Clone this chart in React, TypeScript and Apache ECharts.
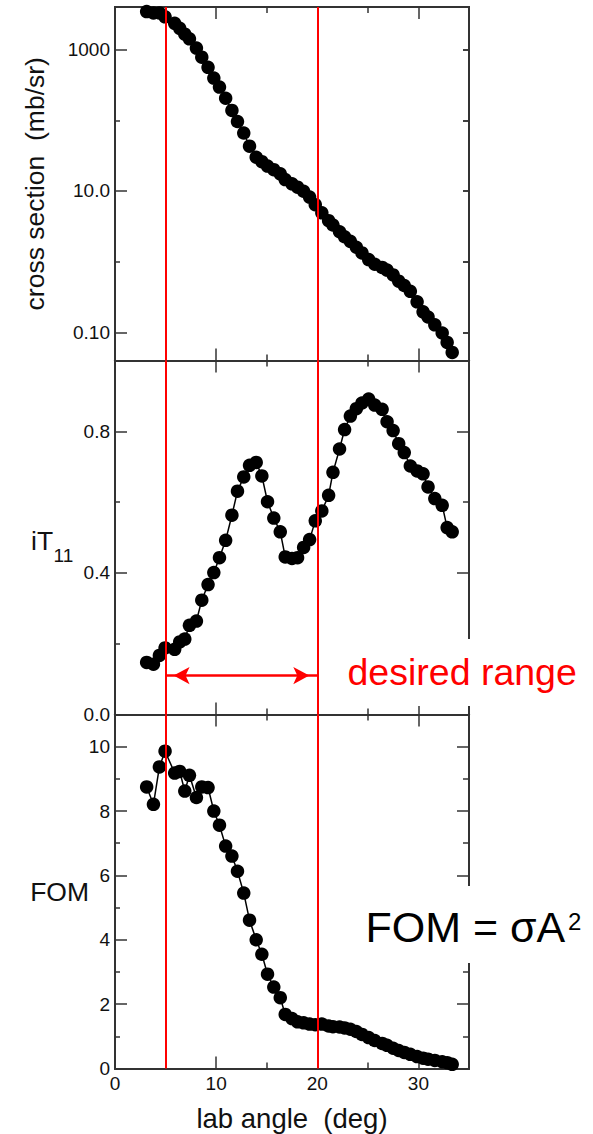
import React, { useEffect, useRef } from 'react';
import * as echarts from 'echarts';

// ---------- data ----------
const angles = [
  3.13, 3.8, 4.39, 4.95, 5.9, 6.4, 6.9, 7.36, 8.05, 8.58, 9.2, 9.77, 10.33, 10.94,
  11.56, 12.11, 12.73, 13.3, 13.96, 14.52, 15.08, 15.7, 16.34, 16.83, 17.5, 18.05,
  18.65, 19.24, 19.8, 20.45, 21.12, 21.55, 22.2, 22.7, 23.27, 23.86, 24.42, 25.08,
  25.68, 26.41, 26.9, 27.5, 28.05, 28.6, 29.2, 29.87, 30.46, 30.95, 31.62, 32.35,
  32.84, 33.34,
];
const crossSection = [
  3450, 3300, 3300, 2900, 2350, 2000, 1650, 1420, 1050, 780, 560, 395, 295, 205,
  138, 96, 66, 43, 30, 26, 22.5, 20, 17.5, 14.5, 12.6, 11.3,
  9.9, 8.2, 6.4, 4.9, 3.8, 3.3, 2.65, 2.25, 1.94, 1.6, 1.33, 1.07,
  0.92, 0.83, 0.76, 0.65, 0.53, 0.46, 0.38, 0.27, 0.195, 0.165, 0.128, 0.098,
  0.072, 0.052,
];
const iT11 = [
  0.147, 0.142, 0.167, 0.188, 0.184, 0.205, 0.213, 0.252, 0.264, 0.323, 0.367, 0.401, 0.443, 0.492,
  0.563, 0.631, 0.671, 0.704, 0.712, 0.674, 0.601, 0.555, 0.516, 0.445, 0.441, 0.443,
  0.472, 0.494, 0.547, 0.575, 0.619, 0.684, 0.75, 0.805, 0.843, 0.864, 0.88, 0.891,
  0.874, 0.862, 0.827, 0.802, 0.765, 0.74, 0.702, 0.688, 0.68, 0.643, 0.61, 0.591,
  0.528, 0.516,
];
const fom = [
  8.75, 8.21, 9.37, 9.86, 9.18, 9.23, 8.62, 9.11, 8.42, 8.75, 8.73, 8.0, 7.56, 6.91,
  6.6, 6.13, 5.45, 4.61, 4.0, 3.55, 2.93, 2.53, 2.2, 1.68, 1.55, 1.45,
  1.42, 1.38, 1.36, 1.38, 1.32, 1.3, 1.29, 1.26, 1.22, 1.15, 1.06, 0.96,
  0.87, 0.78, 0.72, 0.63, 0.56, 0.5, 0.44, 0.37, 0.32, 0.29, 0.25, 0.21,
  0.18, 0.13,
];

// ticks and tick labels
const xTicksMajor = [0, 10, 20, 30];
const xTicksMinor = [5, 15, 25];
const csTicksLabeled = [0.1, 10, 1000];
const csTickLabels = ['0.10', '10.0', '1000'];
const csTicksMinor = [1, 100];
const csTicksAll = [0.1, 1, 10, 100, 1000];
const aTicksMajor = [0, 0.4, 0.8];
const aTicksMinor = [0.2, 0.6];
const fomTicksMajor = [0, 2, 4, 6, 8, 10];
const fomTicksMinor = [1, 3, 5, 7, 9];

// annotations
const desiredRange = [5, 20];
const arrowLevel = 0.11;

// ---------- styling ----------
const FONT = "'Liberation Sans', Arial, Helvetica, sans-serif";
const AXIS_COLOR = '#333';
const TEXT_COLOR = '#111';
const RED = '#ff0000';

const GRIDS = [
  { left: 115, top: 7, width: 354, height: 353.5 },
  { left: 115, top: 360.5, width: 354, height: 354 },
  { left: 115, top: 714.5, width: 354, height: 354 },
];

const X_RANGE = { min: 0, max: 35 };
const Y_SCALES = [
  { type: 'log', min: 0.04, max: 4000 },
  { type: 'value', min: 0, max: 1 },
  { type: 'value', min: 0, max: 11 },
];

function xAxisDef(g: number, position: string, ticks: number[], len: number, extra: any = {}) {
  return {
    type: 'value',
    gridIndex: g,
    position,
    min: X_RANGE.min,
    max: X_RANGE.max,
    axisLine: { show: true, onZero: false, lineStyle: { color: AXIS_COLOR, width: 2 } },
    axisTick: { show: true, inside: true, length: len, customValues: ticks, lineStyle: { color: AXIS_COLOR, width: 1.5 } },
    axisLabel: { show: false },
    splitLine: { show: false },
    minorTick: { show: false },
    ...extra,
  };
}

function yAxisDef(g: number, position: string, ticks: number[], len: number, extra: any = {}) {
  const s = Y_SCALES[g];
  const def: any = {
    type: s.type,
    gridIndex: g,
    position,
    min: s.min,
    max: s.max,
    axisLine: { show: true, onZero: false, lineStyle: { color: AXIS_COLOR, width: 2 } },
    axisTick: { show: true, inside: true, length: len, customValues: ticks, lineStyle: { color: AXIS_COLOR, width: 1.5 } },
    axisLabel: { show: false },
    splitLine: { show: false },
    minorTick: { show: false },
    ...extra,
  };
  if (s.type === 'log') def.logBase = 10;
  return def;
}

const labelStyle = { fontSize: 19, fontFamily: FONT, color: TEXT_COLOR, margin: 5 };

function buildOption() {
  const xAxis: any[] = [];
  const yAxis: any[] = [];

  for (let g = 0; g < 3; g++) {
    const bottomExtra =
      g === 2
        ? {
            axisLabel: { show: true, customValues: xTicksMajor, formatter: (v: number) => String(v), ...labelStyle },
            name: 'lab angle  (deg)',
            nameLocation: 'middle',
            nameGap: 36,
            nameMoveOverlap: false,
            nameTextStyle: { fontSize: 27.5, fontFamily: FONT, color: TEXT_COLOR },
          }
        : {};
    xAxis.push(xAxisDef(g, 'bottom', xTicksMajor, 12, bottomExtra));
    xAxis.push(xAxisDef(g, 'bottom', xTicksMinor, 6));
    xAxis.push(xAxisDef(g, 'top', xTicksMajor, 12));
    xAxis.push(xAxisDef(g, 'top', xTicksMinor, 6));
  }

  // top panel: cross section (log)
  yAxis.push(
    yAxisDef(0, 'left', csTicksLabeled, 12, {
      axisLabel: {
        show: true,
        customValues: csTicksLabeled,
        formatter: (v: number) => {
          const i = csTicksLabeled.findIndex((t) => Math.abs(t - v) / t < 1e-6);
          return i >= 0 ? csTickLabels[i] : '';
        },
        ...labelStyle,
      },
      name: 'cross section  (mb/sr)',
      nameLocation: 'middle',
      nameGap: 67,
      nameMoveOverlap: false,
      nameTextStyle: { fontSize: 26.5, fontFamily: FONT, color: TEXT_COLOR },
    })
  );
  yAxis.push(yAxisDef(0, 'left', csTicksMinor, 5));
  yAxis.push(yAxisDef(0, 'right', csTicksAll, 6));
  yAxis.push(yAxisDef(0, 'right', csTicksAll, 6));

  // middle panel: iT11
  yAxis.push(
    yAxisDef(1, 'left', aTicksMajor, 12, {
      axisLabel: { show: true, customValues: aTicksMajor, formatter: (v: number) => v.toFixed(1), ...labelStyle },
    })
  );
  yAxis.push(yAxisDef(1, 'left', aTicksMinor, 5));
  yAxis.push(yAxisDef(1, 'right', aTicksMajor, 12));
  yAxis.push(yAxisDef(1, 'right', aTicksMinor, 6));

  // bottom panel: FOM
  yAxis.push(
    yAxisDef(2, 'left', fomTicksMajor, 12, {
      axisLabel: { show: true, customValues: fomTicksMajor, formatter: (v: number) => String(v), ...labelStyle },
      name: 'FOM',
      nameLocation: 'middle',
      nameRotate: 0,
      nameGap: 26,
      nameMoveOverlap: false,
      nameTextStyle: { fontSize: 26.5, fontFamily: FONT, color: TEXT_COLOR },
    })
  );
  yAxis.push(yAxisDef(2, 'left', fomTicksMinor, 5));
  yAxis.push(yAxisDef(2, 'right', fomTicksMajor, 12));
  yAxis.push(yAxisDef(2, 'right', fomTicksMinor, 6));

  const verticalLines = desiredRange.map((x) => ({ xAxis: x }));

  const mkSeries = (g: number, values: number[], extraMarkData: any[] = []) => ({
    type: 'line',
    xAxisIndex: g * 4,
    yAxisIndex: g * 4,
    data: angles.map((a, i) => [a, values[i]]),
    symbol: 'circle',
    symbolSize: 13.5,
    showSymbol: true,
    clip: false,
    lineStyle: { color: '#000', width: 1.5 },
    itemStyle: { color: '#000' },
    emphasis: { disabled: true },
    z: 3,
    markLine: {
      silent: true,
      animation: false,
      symbol: ['none', 'none'],
      label: { show: false },
      lineStyle: { color: RED, width: 2, type: 'solid' },
      emphasis: { disabled: true },
      data: [...verticalLines, ...extraMarkData],
    },
  });

  const arrow = [
    {
      coord: [desiredRange[0], arrowLevel],
      symbol: 'arrow',
      symbolSize: [13, 16],
      symbolOffset: [0, 8],
      lineStyle: { color: RED, width: 2.5, type: 'solid' },
    },
    {
      coord: [desiredRange[1], arrowLevel],
      symbol: 'arrow',
      symbolSize: [13, 16],
      symbolOffset: [0, 8],
    },
  ];

  const txt = (x: number, y: number, text: string, fontSize: number, fill: string) => ({
    type: 'text',
    x,
    y,
    z: 101,
    silent: true,
    style: {
      text,
      fontSize,
      fontFamily: FONT,
      fill,
      align: 'left',
      verticalAlign: 'middle',
      textAlign: 'left',
      textVerticalAlign: 'middle',
    },
  });

  return {
    animation: false,
    backgroundColor: '#fff',
    grid: GRIDS.map((g) => ({ ...g, containLabel: false, outerBoundsMode: 'none' })),
    xAxis,
    yAxis,
    series: [mkSeries(0, crossSection), mkSeries(1, iT11, [arrow]), mkSeries(2, fom)],
    graphic: [
      txt(31, 541, 'iT', 26.5, TEXT_COLOR),
      txt(53.5, 555, '11', 19, TEXT_COLOR),
      { type: 'rect', z: 100, silent: true, shape: { x: 342, y: 639, width: 251, height: 67 }, style: { fill: '#fff' } },
      txt(347.5, 672, 'desired range', 37.5, RED),
      { type: 'rect', z: 100, silent: true, shape: { x: 360, y: 886, width: 233, height: 77 }, style: { fill: '#fff' } },
      txt(365.5, 927, 'FOM = σA', 43, '#000'),
      txt(568, 921.5, '2', 24, '#000'),
    ],
  };
}

export default function App() {
  const ref = useRef<HTMLDivElement>(null);
  useEffect(() => {
    if (!ref.current) return;
    const chart = echarts.init(ref.current, undefined, { renderer: 'svg' });
    chart.setOption(buildOption() as any);
    return () => chart.dispose();
  }, []);
  return (
    <div
      ref={ref}
      style={{ position: 'fixed', left: 0, top: 0, width: 593, height: 1134, background: '#fff' }}
    />
  );
}
